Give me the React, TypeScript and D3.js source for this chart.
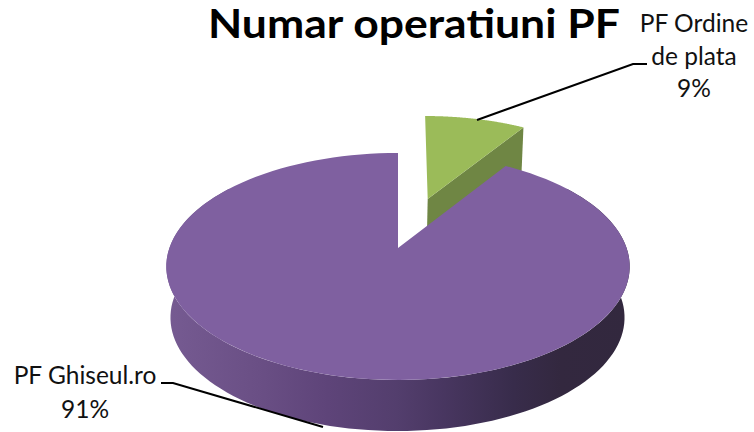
import React from "react";
import * as d3 from "d3";

const categories = ["PF Ordine de plata", "PF Ghiseul.ro"];
const values = [9, 91];
const titleText = "Numar operatiuni PF";
const wallStops: [number, string][] = [
  [0, "#765b92"],
  [0.2, "#6a4f85"],
  [0.35, "#5e4479"],
  [0.5, "#533e6d"],
  [0.6, "#483660"],
  [0.75, "#382c4b"],
  [0.85, "#33283f"],
  [1, "#32283e"],
];

const TILT = 0.163;
type Disk = { ax: number; ay: number; rx: number; ry: number; skew: number };
const mainDisk: Disk = { ax: 398, ay: 248, rx: 228.6, ry: 110.5, skew: 0 };
const lowDisk: Disk = { ax: 397.5, ay: 299, rx: 224, ry: 110.5, skew: 0 };
const greenDisk: Disk = { ax: 427.7, ay: 199, rx: 208, ry: 96.5, skew: -3 };

function project(d: Disk, a: number): [number, number] {
  const u = Math.sin(a);
  const v = Math.cos(a);
  const w = 1 + TILT * v;
  return [d.ax + (d.rx * u + d.skew * v) / w, d.ay - (d.ry * v) / w];
}

function sample(d: Disk, a0: number, a1: number): [number, number][] {
  return d3.range(0, 121).map((i) => project(d, a0 + ((a1 - a0) * i) / 120));
}

const line = d3.line();

export default function App() {
  const arcs = d3.pie<number>().sort(null)(values);
  const g = arcs[0];
  const p = arcs[1];

  const purpleTop =
    line([[mainDisk.ax, mainDisk.ay], ...sample(mainDisk, p.startAngle, p.endAngle)])! + "Z";
  const frontA = Math.PI * 0.3;
  const frontB = Math.PI * 1.7;
  const rim = sample(mainDisk, frontA, frontB);
  const rimLow = sample(lowDisk, frontA, frontB).reverse();
  const purpleWall = line([...rim, ...rimLow])! + "Z";

  const greenTop =
    line([[greenDisk.ax, greenDisk.ay], ...sample(greenDisk, g.startAngle, g.endAngle)])! + "Z";
  const gEnd = project(greenDisk, g.endAngle);
  const gApex: [number, number] = [greenDisk.ax, greenDisk.ay];
  const greenCut =
    line([gApex, gEnd, [gEnd[0] - 2, gEnd[1] + 47], [gApex[0] - 1, gApex[1] + 47]])! + "Z";

  const label = { fontFamily: "Lato, 'Open Sans', sans-serif", fontSize: 24.5, fill: "#111" };

  return (
    <svg
      width={754}
      height={432}
      style={{ position: "absolute", left: 0, top: 0, background: "#fff" }}
    >
      <defs>
        <linearGradient id="wall" gradientUnits="userSpaceOnUse" x1={165} x2={630} y1={0} y2={0}>
          {wallStops.map(([o, c]) => (
            <stop key={o} offset={o} stopColor={c} />
          ))}
        </linearGradient>
      </defs>

      <path d={greenCut} fill="#6f8644" />
      <path d={greenTop} fill="#9bbb59" />
      <path d={purpleWall} fill="url(#wall)" />
      <path d={purpleTop} fill="#7f60a0" />

      <path d={line([[477, 120], [633, 64], [647, 64]])!} fill="none" stroke="#000" strokeWidth={2} />
      <path d={line([[161, 383], [173, 383], [323, 427]])!} fill="none" stroke="#000" strokeWidth={2} />

      <text
        x={208}
        y={38}
        textLength={412}
        lengthAdjust="spacingAndGlyphs"
        style={{ fontFamily: "Lato, 'Open Sans', sans-serif", fontWeight: 700, fontSize: 40, fill: "#000" }}
      >
        {titleText}
      </text>

      <text x={694} y={32} textAnchor="middle" style={label}>PF Ordine</text>
      <text x={694} y={65} textAnchor="middle" style={label}>de plata</text>
      <text x={694} y={97} textAnchor="middle" style={label}>{values[0]}%</text>
      <text x={85} y={384} textAnchor="middle" style={label}>{categories[1]}</text>
      <text x={85} y={418} textAnchor="middle" style={label}>{values[1]}%</text>
    </svg>
  );
}
